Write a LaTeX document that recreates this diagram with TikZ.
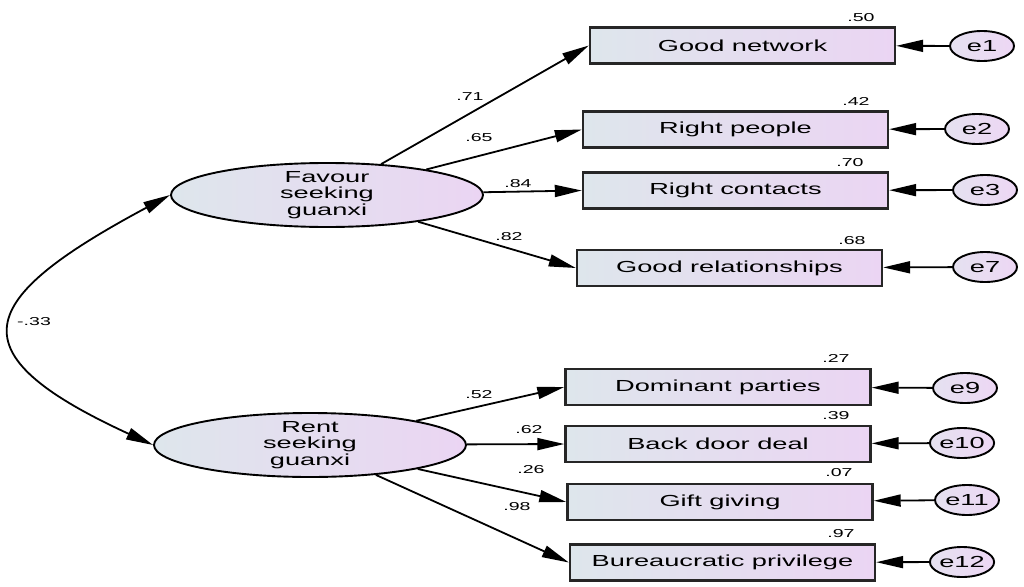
\documentclass[tikz,border=0pt]{standalone}
\usepackage{fontspec}
\setmainfont[FakeStretch=1.7]{Liberation Sans}
\usetikzlibrary{arrows.meta,shapes.geometric}

\definecolor{boxl}{RGB}{222,230,236}
\definecolor{boxr}{RGB}{235,213,243}
\definecolor{errl}{RGB}{229,225,240}
\definecolor{errr}{RGB}{237,215,244}

\begin{document}
\begin{tikzpicture}[x=1pt,y=-1pt,
  load/.style={draw=black,line width=1.8pt,-{Triangle[length=27pt,width=12pt]}},
  cov/.style={draw=black,line width=1.8pt,{Triangle[length=27pt,width=12pt]}-{Triangle[length=27pt,width=12pt]}},
  obs/.style={draw=black!85,line width=2.4pt,left color=boxl,right color=boxr,
    minimum width=305pt,minimum height=36pt,inner sep=0pt,font=\fontsize{16}{18}\selectfont},
  lat/.style={ellipse,draw=black,line width=1.9pt,left color=boxl,right color=boxr,
    minimum width=312pt,minimum height=64pt,inner sep=0pt},
  lattxt/.style={align=center,inner sep=0pt,font=\fontsize{16}{16.7}\selectfont},
  err/.style={ellipse,draw=black,line width=1.9pt,left color=errl,right color=errr,
    minimum width=64pt,minimum height=30pt,inner sep=0pt,font=\fontsize{16}{18}\selectfont},
  coef/.style={inner sep=0pt,font=\fontsize{11.5}{12}\selectfont}]
  \useasboundingbox (0,0) rectangle (1024,586);
  % latent factors
  \node[lat] (fav) at (327,195) {}; \node[lattxt] (favtxt) at (fav)
  {Favour\\seeking\\guanxi};
  \node[lat] (rent) at (310,445) {}; \node[lattxt] (renttxt) at (rent)
  {Rent\\seeking\\guanxi};
  % indicators
  \node[obs] (gn) at (742.5,45.5) {Good network};
  \node[obs] (rp) at (735.5,129.5) {Right people};
  \node[obs] (rc) at (735.5,190.5) {Right contacts};
  \node[obs] (gr) at (729.5,268) {Good relationships};
  \node[obs] (dp) at (718,387) {Dominant parties};
  \node[obs] (bd) at (718,444) {Back door deal};
  \node[obs] (gg) at (720,502) {Gift giving};
  \node[obs] (bp) at (722.5,562.5) {Bureaucratic privilege};
  % error terms
  \node[err] (e1) at (982,46) {e1}; \node[err] (e2) at (977,129) {e2};
  \node[err] (e3) at (985,190) {e3}; \node[err] (e7) at (985,267) {e7};
  \node[err] (e9) at (965,388) {e9}; \node[err] (e10) at (962,443) {e10};
  \node[err] (e11) at (967,500) {e11}; \node[err] (e12) at (962,562) {e12};
  \foreach \e/\m in {e1/gn,e2/rp,e3/rc,e7/gr,e9/dp,e10/bd,e11/gg,e12/bp}
    \draw[load] (\e) -- (\m);
  % loadings
  \foreach \m in {gn,rp,rc,gr} \draw[load] (fav) -- (\m.west);
  \foreach \m in {dp,bd,gg,bp} \draw[load] (rent) -- (\m.west);
  % covariance
  \draw[cov] (fav.west) .. controls (-26,300) and (-47,353) .. (rent.west);
  \node[coef,anchor=west] (r) at (17,322) {-.33};
  % estimates
  \node[coef] (l1) at (470,97) {.71}; \node[coef] (l2) at (479,138) {.65};
  \node[coef] (l3) at (518,184) {.84}; \node[coef] (l4) at (509,237) {.82};
  \node[coef] (l5) at (479,395) {.52}; \node[coef] (l6) at (529,430) {.62};
  \node[coef] (l7) at (531,470) {.26}; \node[coef] (l8) at (517,507) {.98};
  \node[coef] (s1) at (861,18) {.50}; \node[coef] (s2) at (856,101) {.42};
  \node[coef] (s3) at (850,163) {.70}; \node[coef] (s4) at (852,241) {.68};
  \node[coef] (s5) at (836,358) {.27}; \node[coef] (s6) at (836,416) {.39};
  \node[coef] (s7) at (839,473) {.07}; \node[coef] (s8) at (841,534) {.97};
\end{tikzpicture}
\end{document}
